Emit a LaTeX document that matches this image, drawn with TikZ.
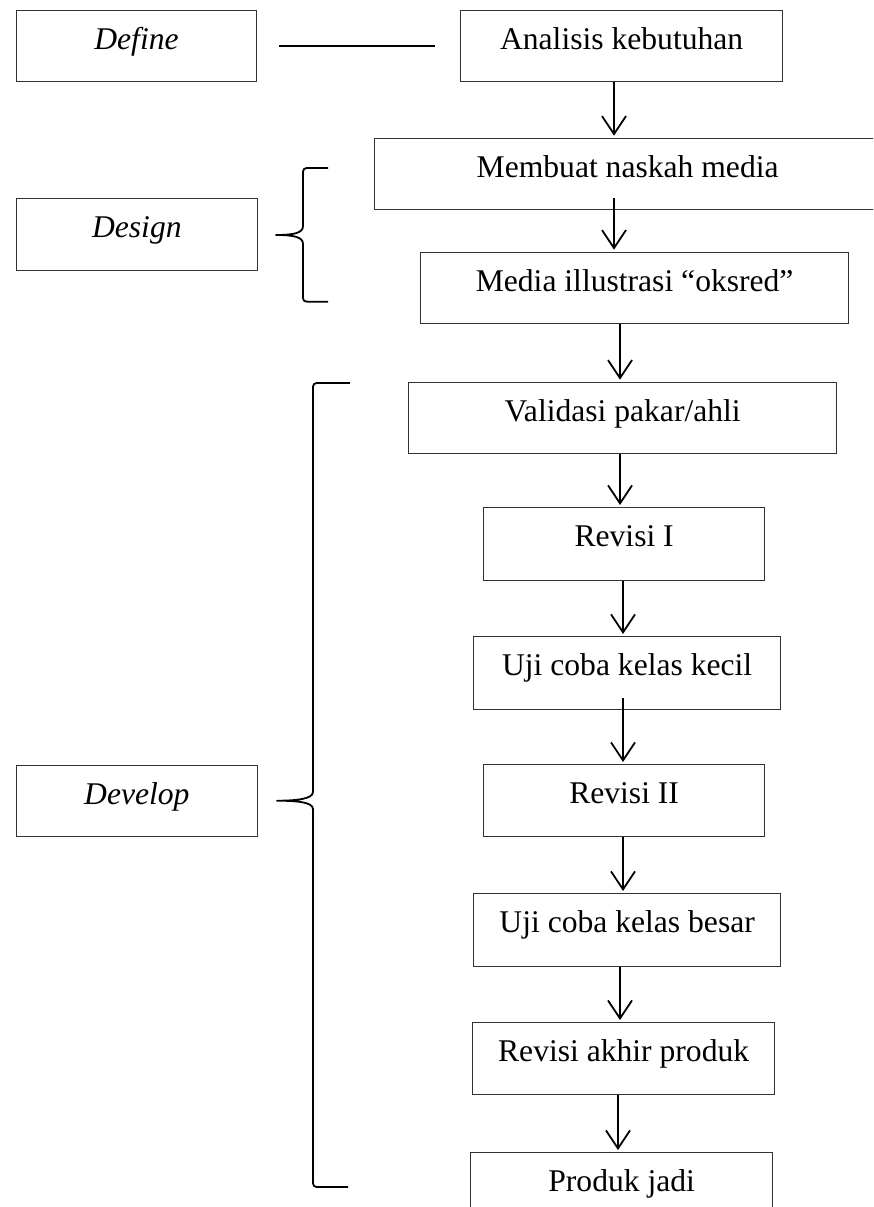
\documentclass[tikz,border=0pt]{standalone}
\usepackage{fontspec}
\setmainfont{Liberation Serif}
\usetikzlibrary{arrows.meta}
\begin{document}
\begin{tikzpicture}[x=1pt,y=-1pt,
  box/.style={draw=black!80, line width=1.3pt, inner xsep=0pt, inner ysep=0pt,
    text height=39pt, text depth=32pt, anchor=north west,
    font=\fontsize{31.6}{38}\selectfont},
  arr/.style={line width=1.8pt, -{Straight Barb[length=18pt,width=24pt,line width=1.8pt]}, shorten >=2pt},
  plain/.style={line width=1.8pt},
  brace/.style={line width=1.8pt, line join=round}]
\useasboundingbox (0,0) rectangle (873,1207);
\clip (0,0) rectangle (873,1207);

% phase boxes
\node[box, minimum width=240.5pt] (define) at (15.6,10) {\textit{Define}};
\node[box, minimum width=241pt, text depth=33pt] (design) at (15.7,197.7) {\textit{Design}};
\node[box, minimum width=241pt] (develop) at (15.7,765) {\textit{Develop}};

% process boxes
\node[box, minimum width=322pt] (analisis) at (460,10) {Analisis kebutuhan};
\node[box, minimum width=506pt] (membuat) at (374,137.7) {Membuat naskah media};
\node[box, minimum width=428pt] (media) at (420,251.7) {Media illustrasi “oksred”};
\node[box, minimum width=428pt] (validasi) at (408,381.7) {Validasi pakar/ahli};
\node[box, minimum width=281pt, text depth=34pt] (revisi1) at (483,507) {Revisi I};
\node[box, minimum width=307pt, text depth=34pt] (ujikecil) at (473,636) {Uji coba kelas kecil};
\node[box, minimum width=281pt, text depth=33pt] (revisi2) at (483,764) {Revisi II};
\node[box, minimum width=307pt, text depth=34pt] (ujibesar) at (473,893) {Uji coba kelas besar};
\node[box, minimum width=302pt, text depth=33pt] (revakhir) at (472,1022) {Revisi akhir produk};
\node[box, minimum width=302pt] (produk) at (470,1152) {Produk jadi};

% x positions of the arrows
\coordinate (xa) at (614,0);
\coordinate (xb) at (620,0);
\coordinate (xc) at (623,0);
\coordinate (xd) at (618,0);

% connectors
\draw[plain, shorten <=22pt, shorten >=25pt] (define) -- (analisis);
\draw[arr] (analisis.south -| xa) -- (membuat.north -| xa);
\draw[arr, shorten <=-12pt] (membuat.south -| xa) -- (media.north -| xa);
\draw[arr] (media.south -| xb) -- (validasi.north -| xb);
\draw[arr] (validasi.south -| xb) -- (revisi1.north -| xb);
\draw[arr] (revisi1.south -| xc) -- (ujikecil.north -| xc);
\draw[arr, shorten <=-12pt] (ujikecil.south -| xc) -- (revisi2.north -| xc);
\draw[arr] (revisi2.south -| xc) -- (ujibesar.north -| xc);
\draw[arr] (ujibesar.south -| xb) -- (revakhir.north -| xb);
\draw[arr] (revakhir.south -| xd) -- (produk.north -| xd);

% design brace
\draw[brace] (328,168) -- (311,168) .. controls (303,168) .. (303,176)
  -- (303,226) .. controls (303,233) and (294,235) .. (276,235)
  .. controls (294,235) and (303,237) .. (303,244)
  -- (303,294) .. controls (303,301.7) .. (311,301.7) -- (328,301.7);

% develop brace
\draw[brace] (350,383) -- (321,383) .. controls (313,383) .. (313,391)
  -- (313,792) .. controls (313,799) and (296,800.7) .. (277,800.7)
  .. controls (296,800.7) and (313,802) .. (313,809)
  -- (313,1179) .. controls (313,1187) .. (321,1187) -- (348,1187);
\end{tikzpicture}
\end{document}
